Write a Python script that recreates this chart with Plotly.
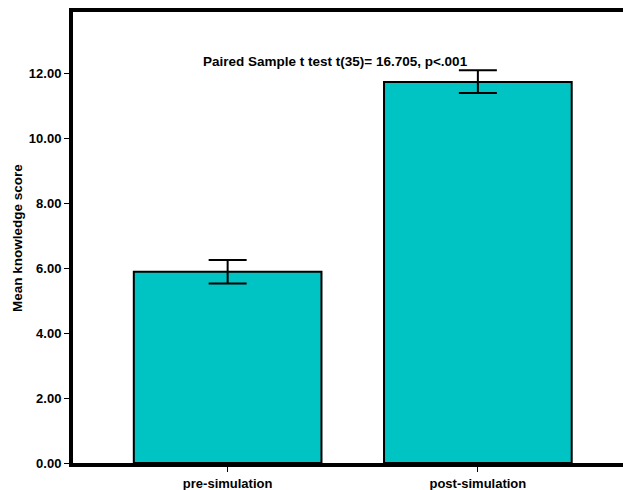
import plotly.graph_objects as go

categories = ["pre-simulation", "post-simulation"]
means = [5.90, 11.75]
err_plus = [0.36, 0.36]
err_minus = [0.36, 0.34]
y_ticks = [0, 2, 4, 6, 8, 10, 12]
y_tick_labels = ["0.00", "2.00", "4.00", "6.00", "8.00", "10.00", "12.00"]
annotation_text = "Paired Sample t test t(35)= 16.705, p<.001"
y_title = "Mean knowledge score"

font_family = "Liberation Sans, Arial, sans-serif"

L, R, T, B = 73, 0, 12, 27
W, H = 623, 490
plot_w = W - L - R

fig = go.Figure()
fig.add_trace(go.Bar(
    x=[0, 1],
    y=means,
    width=0.75,
    marker=dict(color="#00C4C4", line=dict(color="black", width=2)),
    error_y=dict(type="data", symmetric=False, array=err_plus, arrayminus=err_minus,
                 color="black", thickness=2, width=19),
    showlegend=False,
))

fig.add_annotation(
    x=0.43, y=12.37, xref="x", yref="y",
    text="<b>" + annotation_text + "</b>",
    showarrow=False,
    font=dict(family=font_family, size=13.5, color="black"),
    xanchor="center", yanchor="middle",
)

fig.add_annotation(
    x=(17 - L) / plot_w, y=(463 - 238) / (H - T - B), xref="paper", yref="paper",
    text="<b>" + y_title + "</b>",
    textangle=-90, showarrow=False,
    font=dict(family=font_family, size=13.5, color="black"),
    xanchor="center", yanchor="middle",
)

fig.update_layout(
    width=W, height=H,
    margin=dict(l=L, r=R, t=T, b=B, autoexpand=False),
    paper_bgcolor="white", plot_bgcolor="white",
    font=dict(family=font_family, size=13, color="black"),
    xaxis=dict(
        range=[-0.618, 1.58],
        tickmode="array", tickvals=[0, 1],
        ticktext=["<b>" + c + "</b>" for c in categories],
        showline=True, linecolor="black", linewidth=4, mirror=True,
        ticks="outside", ticklen=5, tickwidth=1, tickcolor="black",
        showgrid=False, zeroline=False, automargin=False,
        tickfont=dict(size=13),
    ),
    yaxis=dict(
        range=[0, 13.91],
        tickmode="array", tickvals=y_ticks,
        ticktext=["<b>" + t + "</b>" for t in y_tick_labels],
        showline=True, linecolor="black", linewidth=4,
        ticks="outside", ticklen=5, tickwidth=1, tickcolor="black",
        showgrid=False, zeroline=False, automargin=False,
        tickfont=dict(size=13),
    ),
)

fig.write_html("out.html", config={"displayModeBar": False},
               post_script="document.body.style.margin='0px';")
